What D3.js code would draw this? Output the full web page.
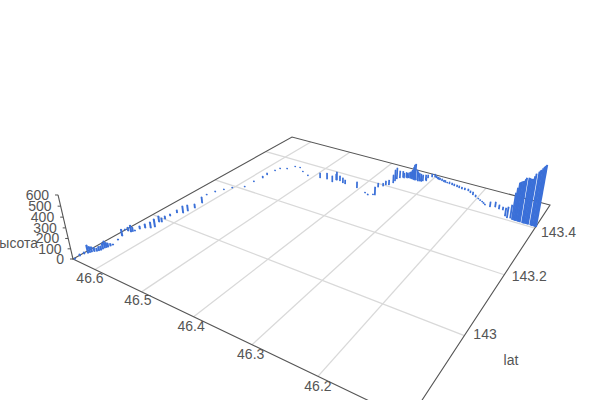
<!DOCTYPE html>
<html><head><meta charset="utf-8"><style>html,body{margin:0;background:#fff}svg{display:block}text{font-family:"Liberation Sans",Arial,sans-serif;font-size:14px;fill:#555}</style></head>
<body><svg id="c" width="600" height="400"></svg>
<script src="https://cdn.jsdelivr.net/npm/d3@7"></script>
<script>
const lngValues=[46.648,46.649,46.648,46.645,46.643,46.638,46.635,46.635,46.633,46.631,46.636,46.640,46.651,46.644,46.638,46.635,46.633,46.628,46.620,46.617,46.623,46.619,46.622,46.622,46.620,46.611,46.609,46.606,46.608,46.622,46.617,46.609,46.601,46.584,46.583,46.579,46.580,46.578,46.575,46.563,46.555,46.544,46.529,46.511,46.486,46.472,46.457,46.455,46.454,46.447,46.438,46.432,46.405,46.382,46.374,46.366,46.363,46.373,46.367,46.365,46.360,46.357,46.358,46.359,46.356,46.349,46.344,46.339,46.334,46.329,46.327,46.324,46.321,46.316,46.313,46.310,46.310,46.305,46.300,46.292,46.287,46.277,46.270,46.259,46.248,46.237,46.224,46.211,46.197,46.187,46.179,46.169,46.161,46.153,46.146,46.136,46.131,46.126,46.122,46.118,46.115,46.111,46.108,46.104,46.101,46.097,46.094,46.090,46.087,46.083,46.080,
46.296,46.290,46.282,46.274,46.265,46.254,46.243,46.231,46.218,46.204,46.192,46.183,46.352,46.3465,46.3415,46.3365,46.3315,46.3185,46.3145,46.3075,46.120,46.1165,46.113,46.1095,46.1025,46.099,46.0955,46.0885,46.085,46.0815,46.644,46.6405,46.6365,46.635,46.634,46.632,46.6365];
const latValues=[142.798,142.810,142.819,142.825,142.832,142.839,142.846,142.855,142.861,142.871,142.889,142.904,142.923,142.924,142.925,142.932,142.943,142.952,142.958,142.966,142.985,142.988,143.001,143.016,143.034,143.041,143.053,143.071,143.097,143.131,143.153,143.172,143.190,143.210,143.243,143.271,143.290,143.319,143.335,143.344,143.365,143.367,143.352,143.341,143.348,143.352,143.346,143.360,143.361,143.361,143.356,143.354,143.352,143.340,143.335,143.342,143.344,143.383,143.394,143.403,143.407,143.422,143.434,143.446,143.455,143.460,143.464,143.468,143.466,143.464,143.465,143.468,143.464,143.468,143.471,143.480,143.493,143.503,143.507,143.501,143.499,143.494,143.493,143.490,143.487,143.483,143.482,143.469,143.457,143.448,143.438,143.436,143.442,143.438,143.438,143.415,143.409,143.412,143.408,143.408,143.408,143.407,143.407,143.407,143.407,143.407,143.407,143.407,143.406,143.406,143.406,
143.504,143.500,143.497,143.4935,143.492,143.488,143.485,143.4825,143.476,143.463,143.452,143.443,143.462,143.4665,143.467,143.467,143.4665,143.466,143.4665,143.4755,143.408,143.408,143.408,143.408,143.407,143.407,143.407,143.407,143.407,143.406,142.8285,142.8355,142.8425,142.8505,142.858,142.866,142.928];
const heightValues=[10,20,20,80,50,30,40,70,40,10,10,70,10,40,70,10,31,42,63,83,63,42,32,21,32,75,65,44,66,11,11,11,11,11,12,23,24,12,12,12,12,12,12,12,58,70,70,70,93,58,58,46,68,11,11,11,90,46,34,46,57,92,127,128,82,58,58,70,105,173,184,116,104,81,70,58,35,35,35,23,23,23,12,23,23,23,23,34,11,11,11,55,55,44,33,86,117,139,279,387,402,418,453,459,454,459,514,539,563,597,621,
23,23,23,23,23,23,23,23,23,23,11,11,70,58,60,80,140,90,65,35,333,395,410,435,456,456,486,551,580,609,60,40,40,60,50,25,45];
const lngTicks=[46.6,46.5,46.4,46.3,46.2];
const latTicks=[143,143.2,143.4];
const heightTicks=[0,100,200,300,400,500,600];
const latName="lat",heightName="высота";

const svg=d3.select("#c");
const uScale=d3.scaleLinear().domain([46.651,46.0805]).range([0,1]);
const vScale=d3.scaleLinear().domain([142.796,143.519]).range([0,1]);
const zScale=d3.scaleLinear().domain([0,600]).range([0,-0.0549]);

// Perspective of the floor (from its four corners) plus the vertical vanishing point
const A=[73,259],B=[409,420],C=[550,205],D=[292,137],V=[331,1361];
const dx1=B[0]-C[0],dx2=D[0]-C[0],sx=A[0]-B[0]+C[0]-D[0],dy1=B[1]-C[1],dy2=D[1]-C[1],sy=A[1]-B[1]+C[1]-D[1],den=dx1*dy2-dx2*dy1;
const g=(sx*dy2-dx2*sy)/den,h=(dx1*sy-sx*dy1)/den,a=B[0]-A[0]+g*B[0],b=D[0]-A[0]+h*D[0],d=B[1]-A[1]+g*B[1],e=D[1]-A[1]+h*D[1];
function proj(u,v,q){const w=g*u+h*v+1+q;return [(a*u+b*v+A[0]+q*V[0])/w,(d*u+e*v+A[1]+q*V[1])/w];}
const P=(lng,lat,z)=>proj(uScale(lng),vScale(lat),zScale(z||0));
const line=d3.line();

const grid=svg.append("g").attr("fill","none").attr("stroke","#d9d9d9").attr("stroke-width",1.3);
lngTicks.forEach(t=>grid.append("path").attr("d",line([P(t,vScale.domain()[0]),P(t,vScale.domain()[1])])));
latTicks.forEach(t=>grid.append("path").attr("d",line([P(uScale.domain()[0],t),P(uScale.domain()[1],t)])));

const [l0,l1]=uScale.domain(),[a0,a1]=vScale.domain();
svg.append("path").attr("fill","none").attr("stroke","#555").attr("stroke-width",1.1)
  .attr("d",line([P(l0,a0),P(l1,a0),P(l1,a1),P(l0,a1)])+"Z");
svg.append("path").attr("fill","none").attr("stroke","#555").attr("stroke-width",1.1)
  .attr("d",line([P(l0,a0),P(l0,a0,600)]));

// bars
const bars=d3.range(lngValues.length).map(i=>({lng:lngValues[i],lat:latValues[i],h:heightValues[i]}));
const hwLng=0.0013,hwLat=0.0013;
svg.append("g").selectAll("path").data(bars).join("path")
  .attr("fill","#3b70d8")
  .attr("d",p=>{
    const pts=[];
    [-1,1].forEach(sa=>[-1,1].forEach(sb=>[0,p.h].forEach(z=>pts.push(P(p.lng+sa*hwLng,p.lat+sb*hwLat,z)))));
    return line(d3.polygonHull(pts))+"Z";
  });

// height axis
heightTicks.forEach(t=>{
  const p=P(l0,a0,t);
  svg.append("line").attr("x1",p[0]-3).attr("x2",p[0]).attr("y1",p[1]).attr("y2",p[1]).attr("stroke","#555");
  svg.append("text").attr("x",p[0]-9).attr("y",p[1]+5).attr("text-anchor","end").text(t);
});
svg.append("text").attr("x",15).attr("y",248).attr("text-anchor","middle").text(heightName);

// lng labels
const ldx=d3.scaleLinear().domain([46.6,46.2]).range([-5,0]);
const ldy=d3.scaleLinear().domain([46.6,46.2]).range([8,10]);
lngTicks.forEach(t=>{
  const p=P(t,a0);
  svg.append("text").attr("x",p[0]+ldx(t)).attr("y",p[1]+ldy(t)+5).attr("text-anchor","middle").text(t);
});
// lat labels
const adx=d3.scaleLinear().domain([143,143.4]).range([9,6]);
const ady=d3.scaleLinear().domain([143,143.4]).range([-2,4]);
latTicks.forEach(t=>{
  const p=P(l1,t);
  svg.append("text").attr("x",p[0]+adx(t)).attr("y",p[1]+ady(t)+5).text(t);
});
svg.append("text").attr("x",511).attr("y",365).attr("text-anchor","middle").text(latName);
</script></body></html>
